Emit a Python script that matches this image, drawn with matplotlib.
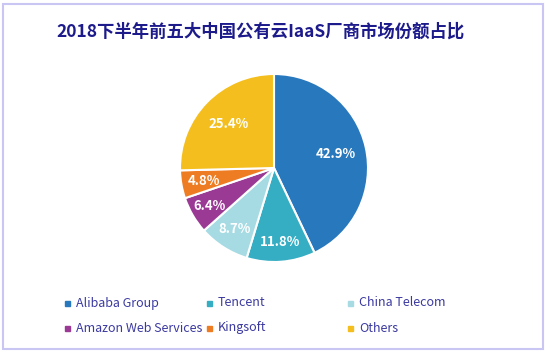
import matplotlib
matplotlib.use("Agg")
import matplotlib.pyplot as plt
from matplotlib.patches import Rectangle
import numpy as np

plt.rcParams['font.family'] = ['Noto Sans CJK SC', 'DejaVu Sans']

# data
title = "2018下半年前五大中国公有云IaaS厂商市场份额占比"
vendors = ["Alibaba Group", "Tencent", "China Telecom",
           "Amazon Web Services", "Kingsoft", "Others"]
shares = [42.9, 11.8, 8.7, 6.4, 4.8, 25.4]
colors = ["#2878bd", "#35adc3", "#a7dbe4", "#9b3a95", "#ee7c22", "#f4bf1e"]

W, H = 546, 352
fig = plt.figure(figsize=(W / 100, H / 100), dpi=100)
fig.patch.set_facecolor("white")

# frame around the chart
fig.patches.append(Rectangle((3 / W, 3 / H), 1 - 6 / W, 1 - 7 / H,
                             transform=fig.transFigure, fill=False,
                             edgecolor="#c9c6f3", lw=1.5))

fig.text(0.477, 1 - 32 / H, title, ha="center", va="center",
         fontsize=12.5, fontweight="bold", color="#1d1b8c")

# pie
cx, cy, r = 274, 168, 94
ax = fig.add_axes([(cx - r) / W, 1 - (cy + r) / H, 2 * r / W, 2 * r / H])
wedges, _, autotexts = ax.pie(
    shares, colors=colors, startangle=90, counterclock=False,
    autopct=lambda p: f"{p:.1f}%", pctdistance=0.7,
    wedgeprops=dict(edgecolor="white", linewidth=1.5),
    textprops=dict(color="white", fontsize=9.5, fontweight="bold"))
ax.set_xlim(-1, 1)
ax.set_ylim(-1, 1)
ax.set_aspect("equal")
ax.axis("off")

# nudge labels radially
label_r = [0.67, 0.79, 0.77, 0.8, 0.76, 0.67]
for t, w, lr in zip(autotexts, wedges, label_r):
    ang = np.deg2rad((w.theta1 + w.theta2) / 2)
    t.set_position((lr * np.cos(ang), lr * np.sin(ang)))

# legend, 3 columns x 2 rows
col_x = [67, 209, 350]
row_y = [303, 328]
for i, (name, c) in enumerate(zip(vendors, colors)):
    x = col_x[i % 3]
    y = row_y[i // 3]
    fig.patches.append(Rectangle(((x - 2.5) / W, 1 - (y + 2.5) / H), 5 / W, 5 / H,
                                 transform=fig.transFigure, color=c))
    fig.text((x + 9) / W, 1 - y / H, name, ha="left", va="center",
             fontsize=9, color="#3b39a0")

fig.savefig("out.png", dpi=100)
